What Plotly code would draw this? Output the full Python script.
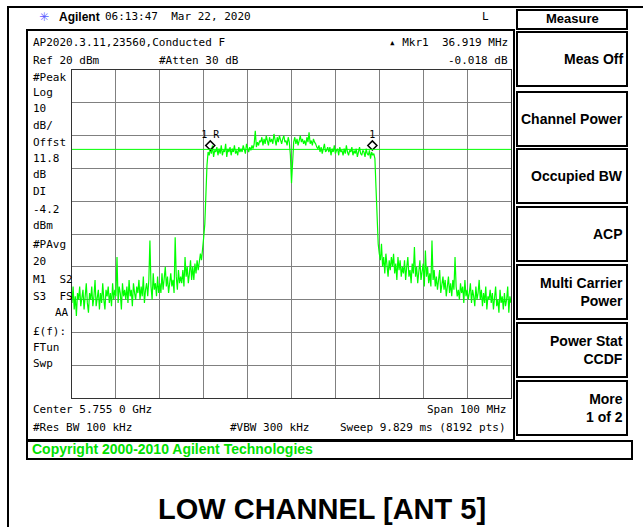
import plotly.graph_objects as go

W, H = 643, 527

# sweep: center 5.755 GHz, span 100 MHz, 0.25 MHz between readings
center_ghz = 5.755
span_ghz = 0.100
step_ghz = 0.00025

# trace levels in dBm left to right
noise_left_dbm = [
    -51, -46, -53, -49, -55, -48, -50, -46, -52, -50,
    -47, -53, -49, -45, -51, -54, -48, -50, -46, -52,
    -49, -44, -52, -50, -47, -53, -48, -51, -45, -50,
    -53, -47, -49, -46, -51, -48, -52, -45, -50, -47,
    -49, -37, -51, -46, -48, -53, -45, -49, -47, -50,
    -46, -51, -44, -49, -47, -52, -45, -48, -50, -46,
    -48, -44, -50, -46, -49, -43, -51, -47, -45, -49,
    -44, -32, -46, -50, -42, -47, -45, -49, -43, -48,
    -45, -48, -42, -47, -44, -40, -46, -43, -48, -44,
    -42, -46, -44, -48, -31, -43, -47, -41, -45, -43,
    -45, -41, -46, -37, -43, -40, -45, -42, -38, -44,
    -40, -44, -39, -42, -38, -41,
]
rise_dbm = [-39, -36, -38, -33, -31, -27, -17, -9, -5]
plateau_dbm = [
    -6, -4, -5.5, -3, -6.5, -4.5, -5, -3.5, -6, -4,
    -5.5, -3, -6, -4.5, -5, -2.5, -6.5, -4, -5, -3.5,
    -6, -4, -5, -3, -5.5, -4.5, -6, -3.5, -5, -4,
    -5, -3, -4.5, -5.5, -2.5, -4, -5, -3.5, -4.5, -3,
    -4, -2.5, 1.5, -3.5, -2, -3, -1.5,
    -2, -0.5, -3, -1, -2.5, 0, -1.5, -3, -0.5, -2,
    -1, -2.5, 0.5, -1.5, -3, -0.5, -2, 0, -1.5, -2.5,
    -1, 0, -2, -1.5, -3, -0.5, -2,
    -6, -14.5, -8,
    -2, -0.5, -2.5, -1, -3, -1.5, 0, -2, -1, -2.5,
    -1.5, -3, -0.5, -2, 1, -2.5, -1.5, -3, -1, -2,
    -2.5, -3.5,
    -4, -3, -5, -3.5, -5.5, -4, -2.5, -5, -4.5, -3.5,
    -5, -3.5, -6, -4, -5, -3, -5.5, -4.5, -4, -6,
    -3.5, -5, -4.5, -6, -4, -5.5, -3, -5, -6, -4.5,
    -5, -3.5, -6, -4.5, -5.5, -4, -6.5, -5, -3.5, -5.5,
    -6, -4.5, -5, -6.5, -4, -5.5, -6, -4.5, -7, -5,
    -6, -5.5,
]
fall_dbm = [-7, -16, -27, -33, -36, -38]
noise_right_dbm = [
    -33, -40, -37, -42, -36, -39, -43, -38, -41, -37,
    -40, -36, -42, -39, -44, -37, -41, -38, -43, -40,
    -42, -38, -44, -40, -37, -43, -41, -45, -39, -42,
    -34, -43, -40, -45, -41, -38, -44, -42, -39, -46,
    -35, -43, -40, -45, -42, -46, -32, -44, -41, -46,
    -43, -47, -44, -41, -48, -45, -43, -47, -44, -49,
    -46, -43, -48, -45, -49, -44, -47, -37, -46, -49,
    -47, -50, -45, -48, -46, -51, -44, -49, -47, -50,
    -48, -45, -51, -47, -49, -52, -46, -50, -48, -44,
    -50, -47, -52, -48, -51, -46, -53, -49, -50, -47,
    -51, -48, -53, -49, -46, -52, -50, -54, -47, -51,
    -49, -53, -48, -52, -50, -46, -54, -49, -51,
]

trace_dbm = noise_left_dbm + rise_dbm + plateau_dbm + fall_dbm + noise_right_dbm
start_ghz = center_ghz - span_ghz / 2
trace_ghz = [start_ghz + i * step_ghz for i in range(len(trace_dbm))]

ref_level_dbm = 20
db_per_div = 10
display_line_dbm = -4.2
marker_ghz = [5.7365, 5.773419]
marker_dbm = [-3, -3]
marker_labels = ["1 R", "1"]

softkeys = ["Meas Off", "Channel Power", "Occupied BW", "ACP",
            "Multi Carrier<br>Power", "Power Stat<br>CCDF", "<b>More</b><br>1 of 2"]

left_info = ["#Peak", "Log", "10", "dB/", "Offst", "11.8", "dB", "DI", "-4.2",
             "dBm", "#PAvg", "20", "M1  S2", "S3  FS", "", "\u00a3(f):", "FTun", "Swp"]
left_info_y = [77, 92, 108, 125, 142, 158, 175, 192, 209, 225, 245, 262, 279,
               296, 312, 331, 347, 363]

GREEN = "#00ff00"
MONO = "DejaVu Sans Mono"
SANS = "Liberation Sans, Arial"


def px(x, y):
    return x / W, 1 - y / H


def label(x, y, text, anchor="left", size=11, family=MONO, color="black", bold=False):
    ax, ay = px(x, y)
    if bold:
        text = f"<b>{text}</b>"
    return dict(x=ax, y=ay, xref="paper", yref="paper", text=text, showarrow=False,
                xanchor=anchor, yanchor="middle", align=anchor,
                font=dict(family=family, size=size, color=color))


def box(x0, y0, x1, y1, width=2, color="black"):
    a0, b0 = px(x0, y0)
    a1, b1 = px(x1, y1)
    return dict(type="rect", xref="paper", yref="paper", x0=a0, y0=b1, x1=a1, y1=b0,
                line=dict(color=color, width=width))


shapes = [
    box(8, 7, 700, 600),          # outer frame, only its top and left edges show
    box(27, 30, 514, 440),
    box(27, 441, 632, 459),
    box(517, 10, 627, 29),
]
key_tops = [32, 92, 149, 207, 265, 323, 381]
for t in key_tops:
    shapes.append(box(517, t, 627, t + 54))

ann = [
    label(37, 17, "\u2733", size=12, family="DejaVu Sans", color="#5a5aff"),
    label(57, 17, "Agilent", size=12, family=SANS, bold=True),
    label(103, 17, "06:13:47  Mar 22, 2020"),
    label(480, 17, "L"),
    label(572, 19, "Measure", anchor="center", size=13, family=SANS, bold=True),
    label(31, 42, "AP2020.3.11,23560,Conducted F"),
    label(31, 61, "Ref 20 dBm"),
    label(157, 61, "#Atten 30 dB"),
    label(510, 42, "\u25b4 Mkr1  36.919 MHz", anchor="right"),
    label(510, 61, "-0.018 dB", anchor="right"),
    label(71, 312, "AA", anchor="right"),
    label(31, 409, "Center 5.755 0 GHz"),
    label(508, 409, "Span 100 MHz", anchor="right"),
    label(31, 427, "#Res BW 100 kHz"),
    label(228, 427, "#VBW 300 kHz"),
    label(508, 427, "Sweep 9.829 ms (8192 pts)", anchor="right"),
    label(30, 449, "Copyright 2000-2010 Agilent Technologies", size=14,
          family=SANS, color="#00e000", bold=True),
    label(W / 2, 509, "LOW CHANNEL [ANT 5]", anchor="center", size=29,
          family=SANS, bold=True),
]
for txt, y in zip(left_info, left_info_y):
    if txt:
        ann.append(label(31, y, txt))
for t, txt in zip(key_tops, softkeys):
    ann.append(label(625, t + 27, txt, anchor="right", size=14, family=SANS, bold=True))

x0, _ = px(72, 0)
x1, _ = px(511, 0)
_, ytop = px(0, 70)
_, ybot = px(0, 398)

fig = go.Figure()
fig.add_trace(go.Scatter(x=trace_ghz, y=trace_dbm, mode="lines",
                         line=dict(color=GREEN, width=1.2), hoverinfo="skip"))
fig.add_trace(go.Scatter(x=marker_ghz, y=marker_dbm, mode="markers+text",
                         text=marker_labels, textposition="top center",
                         textfont=dict(family=MONO, size=10, color="black"),
                         marker=dict(symbol="diamond-open", size=7,
                                     color="black", line=dict(width=1.5))))

fig.update_layout(
    width=W, height=H, margin=dict(l=0, r=0, t=0, b=0),
    paper_bgcolor="white", plot_bgcolor="white", showlegend=False,
    shapes=shapes, annotations=ann,
    xaxis=dict(domain=[x0, x1], range=[start_ghz, start_ghz + span_ghz],
               dtick=span_ghz / 10, tick0=start_ghz, showticklabels=False,
               ticks="", showgrid=True, gridcolor="#808080", gridwidth=1,
               zeroline=False, showline=True, mirror=True, linecolor="#333",
               linewidth=1),
    yaxis=dict(domain=[ybot, ytop],
               range=[ref_level_dbm - 10 * db_per_div, ref_level_dbm],
               dtick=db_per_div, showticklabels=False, ticks="", showgrid=True,
               gridcolor="#808080", gridwidth=1, zeroline=False, showline=True,
               mirror=True, linecolor="#333", linewidth=1),
)
# display line after the layout shapes so it is not overwritten
fig.add_hline(y=display_line_dbm, line=dict(color=GREEN, width=1))

# the page's default 8px body margin would shift the figure off the window
fig.write_html("out.html", config={"displayModeBar": False},
               post_script="document.body.style.margin='0';")
